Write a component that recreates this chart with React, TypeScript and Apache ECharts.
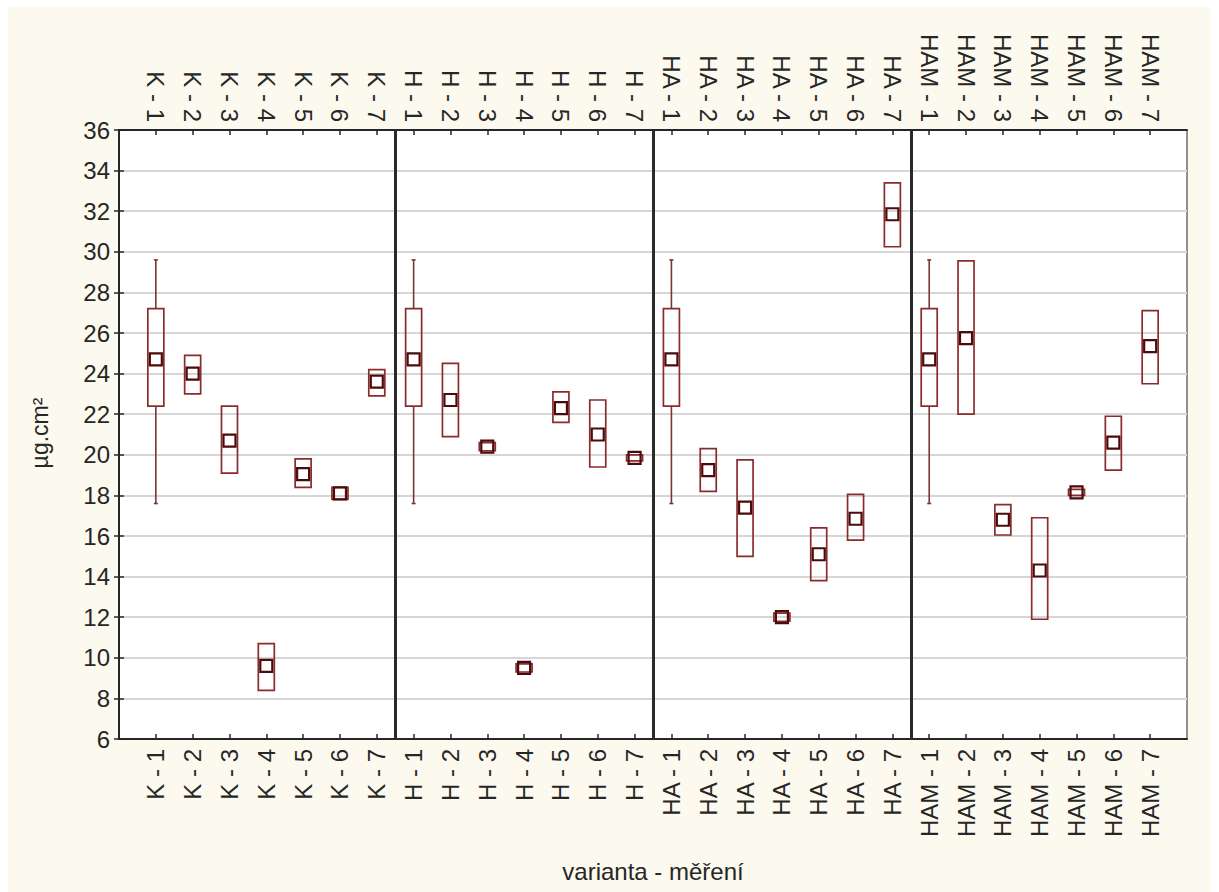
import React, { useEffect, useRef } from "react";
import * as echarts from "echarts";

// Measurement categories: variant - measurement number
const categories = [
  "K - 1", "K - 2", "K - 3", "K - 4", "K - 5", "K - 6", "K - 7",
  "H - 1", "H - 2", "H - 3", "H - 4", "H - 5", "H - 6", "H - 7",
  "HA - 1", "HA - 2", "HA - 3", "HA - 4", "HA - 5", "HA - 6", "HA - 7",
  "HAM - 1", "HAM - 2", "HAM - 3", "HAM - 4", "HAM - 5", "HAM - 6", "HAM - 7",
];

// Central value (small square) of each box
const centers = [
  24.7, 24.0, 20.7, 9.6, 19.05, 18.1, 23.6,
  24.7, 22.7, 20.4, 9.5, 22.3, 21.0, 19.85,
  24.7, 19.25, 17.4, 12.0, 15.1, 16.85, 31.85,
  24.7, 25.75, 16.8, 14.3, 18.15, 20.6, 25.35,
];

// Lower and upper edge of each box
const boxLow = [
  22.4, 23.0, 19.1, 8.4, 18.4, 17.8, 22.9,
  22.4, 20.9, 20.2, 9.3, 21.6, 19.4, 19.7,
  22.4, 18.2, 15.0, 11.8, 13.8, 15.8, 30.25,
  22.4, 22.0, 16.05, 11.9, 18.0, 19.25, 23.5,
];
const boxHigh = [
  27.2, 24.9, 22.4, 10.7, 19.8, 18.4, 24.2,
  27.2, 24.5, 20.6, 9.7, 23.1, 22.7, 20.0,
  27.2, 20.3, 19.75, 12.2, 16.4, 18.05, 33.4,
  27.2, 29.55, 17.55, 16.9, 18.3, 21.9, 27.1,
];

// Whisker ends (null where the whisker coincides with the box)
const whiskerLow: (number | null)[] = [
  17.6, null, null, null, null, null, null,
  17.6, null, null, null, null, null, null,
  17.6, null, null, null, null, null, null,
  17.6, null, null, null, null, null, null,
];
const whiskerHigh: (number | null)[] = [
  29.6, null, null, null, null, null, null,
  29.6, null, null, null, null, null, null,
  29.6, null, null, null, null, null, null,
  29.6, null, null, null, null, null, null,
];

// Group separators between variants
const separators = [7.5, 14.5, 21.5];

const yTicks = { min: 6, max: 36, step: 2 };

const FONT = "'Liberation Sans', Arial, sans-serif";
const TEXT = "#262626";

export default function App() {
  const ref = useRef<HTMLDivElement>(null);

  useEffect(() => {
    document.body.style.margin = "0";
    if (!ref.current) return;
    const chart = echarts.init(ref.current, undefined, { renderer: "svg" });

    const labelFor = (v: number) => categories[Math.round(v) - 1] ?? "";

    const xAxisBase = {
      type: "value" as const,
      min: 0,
      max: categories.length + 1,
      interval: 1,
      axisLine: { show: true, onZero: false, lineStyle: { color: TEXT, width: 2 } },
      axisTick: { show: true, inside: true, length: 5, lineStyle: { color: TEXT, width: 1.5 } },
      splitLine: { show: false },
    };

    const catLabel = {
      rotate: 90,
      formatter: labelFor,
      fontSize: 24,
      fontFamily: FONT,
      color: TEXT,
      showMinLabel: false,
      showMaxLabel: false,
    };

    const data = categories.map((_, i) => [i + 1, boxLow[i], centers[i], boxHigh[i]]);

    chart.setOption({
      animation: false,
      backgroundColor: "#fcf9ef",
      grid: {
        left: 111,
        top: 123,
        width: 1068,
        height: 609,
        show: true,
        backgroundColor: "#ffffff",
        borderColor: TEXT,
        borderWidth: 1,
      },
      xAxis: [
        { ...xAxisBase, position: "bottom", axisLabel: { ...catLabel, margin: 10 } },
        { ...xAxisBase, position: "top", axisLabel: { ...catLabel, margin: 8 } },
      ],
      yAxis: [
        {
          type: "value",
          position: "left",
          min: yTicks.min,
          max: yTicks.max,
          interval: yTicks.step,
          axisLine: { show: true, lineStyle: { color: TEXT, width: 2 } },
          axisTick: { show: true, inside: true, length: 5, lineStyle: { color: TEXT, width: 1.5 } },
          axisLabel: { fontSize: 24, fontFamily: FONT, color: TEXT, margin: 9 },
          splitLine: { show: true, lineStyle: { color: "#d6d6d6", width: 2 } },
        },
        {
          type: "value",
          position: "right",
          min: yTicks.min,
          max: yTicks.max,
          interval: yTicks.step,
          axisLine: { show: true, lineStyle: { color: TEXT, width: 2 } },
          axisTick: { show: true, inside: true, length: 5, lineStyle: { color: TEXT, width: 1.5 } },
          axisLabel: { show: false },
          splitLine: { show: false },
        },
      ],
      graphic: [
        {
          type: "text",
          x: 32,
          y: 426,
          rotation: Math.PI / 2,
          style: {
            text: "µg.cm²",
            fontSize: 23,
            fontFamily: FONT,
            fill: TEXT,
            align: "center",
            verticalAlign: "middle",
          },
        },
        {
          type: "text",
          x: 645,
          y: 864,
          style: {
            text: "varianta - měření",
            fontSize: 24,
            fontFamily: FONT,
            fill: TEXT,
            align: "center",
            verticalAlign: "middle",
          },
        },
      ],
      series: [
        {
          type: "custom",
          xAxisIndex: 0,
          yAxisIndex: 0,
          data,
          encode: { x: 0, y: [1, 2, 3] },
          clip: false,
          renderItem: (params: any, api: any) => {
            const i = params.dataIndex;
            const x = api.value(0);
            const [cx, yLo] = api.coord([x, boxLow[i]]);
            const [, yHi] = api.coord([x, boxHigh[i]]);
            const [, yMid] = api.coord([x, centers[i]]);
            const children: any[] = [];
            const wl = whiskerLow[i];
            const wh = whiskerHigh[i];
            const whiskerStyle = { stroke: "#7a3434", lineWidth: 1.6 };
            if (wl != null) {
              const [, yW] = api.coord([x, wl]);
              children.push({ type: "line", shape: { x1: cx, y1: yLo, x2: cx, y2: yW }, style: whiskerStyle });
              children.push({ type: "line", shape: { x1: cx - 2, y1: yW, x2: cx + 2, y2: yW }, style: whiskerStyle });
            }
            if (wh != null) {
              const [, yW] = api.coord([x, wh]);
              children.push({ type: "line", shape: { x1: cx, y1: yHi, x2: cx, y2: yW }, style: whiskerStyle });
              children.push({ type: "line", shape: { x1: cx - 2, y1: yW, x2: cx + 2, y2: yW }, style: whiskerStyle });
            }
            children.push({
              type: "rect",
              shape: { x: cx - 8, y: yHi, width: 16, height: yLo - yHi },
              style: { fill: "none", stroke: "#8a2c2c", lineWidth: 1.7 },
            });
            children.push({
              type: "rect",
              shape: { x: cx - 6, y: yMid - 6, width: 12, height: 12 },
              style: { fill: "none", stroke: "#4d0a0a", lineWidth: 2.2 },
            });
            return { type: "group", children };
          },
          markLine: {
            silent: true,
            symbol: "none",
            label: { show: false },
            lineStyle: { color: "#2a2a2a", width: 3, type: "solid" },
            data: separators.map((s) => ({ xAxis: s })),
          },
        },
      ],
    });

    return () => chart.dispose();
  }, []);

  return (
    <div style={{ width: 1219, height: 892, background: "#ffffff", position: "relative", overflow: "hidden" }}>
      <div ref={ref} style={{ position: "absolute", left: 8, top: 7, width: 1203, height: 885 }} />
    </div>
  );
}
